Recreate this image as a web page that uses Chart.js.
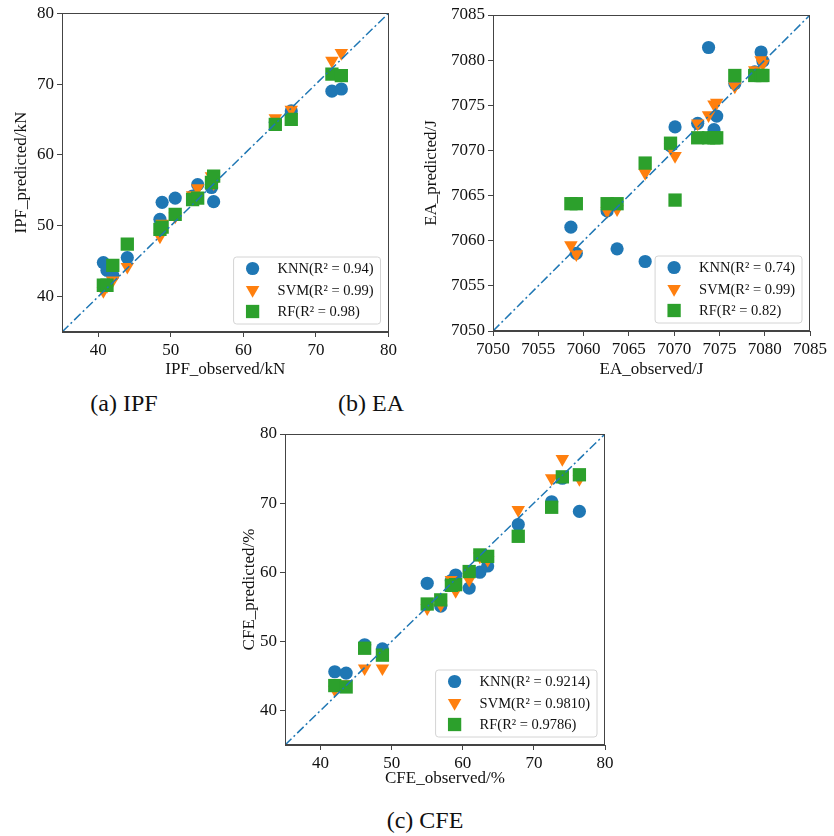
<!DOCTYPE html>
<html>
<head>
<meta charset="utf-8">
<script src="https://cdn.jsdelivr.net/npm/chart.js@4.4.0/dist/chart.umd.min.js"></script>
<style>
  body { margin: 0; background: #fff; width: 834px; height: 836px; position: relative; overflow: hidden;
         font-family: "Liberation Serif", "Times New Roman", serif; }
  canvas { position: absolute; }
  .cap { position: absolute; font-size: 24px; color: #111; white-space: nowrap; transform: translate(-50%, -50%); }
</style>
</head>
<body>
<canvas id="ipf" width="400" height="380" style="left:0;top:0"></canvas>
<canvas id="ea" width="420" height="380" style="left:410px;top:0"></canvas>
<canvas id="cfe" width="400" height="375" style="left:220px;top:420px"></canvas>
<div class="cap" style="left:124px;top:403px">(a) IPF</div>
<div class="cap" style="left:371px;top:403px">(b) EA</div>
<div class="cap" style="left:425px;top:820px">(c) CFE</div>

<script>
const FONT = '"Liberation Serif", "Times New Roman", serif';
const models = ['KNN', 'SVM', 'RF'];
const colors = ['#1f77b4', '#ff7f0e', '#2ca02c'];

// IPF (kN)
const ipfObserved = [40.7, 41.2, 42.0, 44.0, 48.5, 48.8, 50.6, 53.0, 53.7, 55.6, 55.9, 64.4, 66.6, 72.2, 73.5];
const ipfKnn = [44.8, 43.7, 43.0, 45.5, 50.9, 53.3, 53.9, 54.2, 55.8, 55.4, 53.4, 64.6, 66.2, 69.0, 69.3];
const ipfSvm = [40.8, 41.5, 42.3, 44.2, 48.5, 50.3, 51.3, 54.3, 55.3, 57.0, 56.0, 65.2, 66.4, 73.3, 74.4];
const ipfRf  = [41.6, 41.6, 44.4, 47.4, 49.5, 49.8, 51.6, 53.7, 53.9, 56.1, 57.0, 64.3, 65.0, 71.4, 71.2];
const ipfR2 = ['0.94', '0.99', '0.98'];
const ipfTicks = [40, 50, 60, 70, 80];

// EA (J)
const eaObserved = [7058.6, 7059.2, 7062.6, 7063.7, 7066.8, 7069.6, 7070.1, 7072.6, 7073.8, 7074.4, 7074.7, 7076.7, 7078.9, 7079.6, 7079.8];
const eaKnn = [7061.5, 7058.6, 7063.3, 7059.1, 7057.7, 7070.5, 7072.6, 7073.0, 7081.4, 7072.3, 7073.8, 7077.4, 7078.7, 7080.9, 7079.9];
const eaSvm = [7059.5, 7058.5, 7063.3, 7063.5, 7067.5, 7070.4, 7069.4, 7073.0, 7073.9, 7075.1, 7075.3, 7077.1, 7078.9, 7080.0, 7079.6];
const eaRf  = [7064.1, 7064.1, 7064.1, 7064.1, 7068.6, 7070.8, 7064.5, 7071.4, 7071.4, 7071.4, 7071.4, 7078.3, 7078.3, 7078.3, 7078.3];
const eaR2 = ['0.74', '0.99', '0.82'];
const eaTicks = [7050, 7055, 7060, 7065, 7070, 7075, 7080, 7085];

// CFE (%)
const cfeObserved = [42.0, 43.6, 46.2, 48.7, 55.0, 56.9, 58.4, 59.0, 60.9, 62.4, 63.5, 67.8, 72.5, 74.0, 76.4];
const cfeKnn = [45.6, 45.4, 49.5, 48.9, 58.4, 55.1, 58.8, 59.6, 57.7, 60.0, 60.9, 66.9, 70.2, 73.6, 68.8];
const cfeSvm = [43.0, 43.8, 46.1, 46.1, 54.8, 55.3, 58.9, 57.3, 58.9, 62.3, 61.8, 69.0, 73.6, 76.4, 73.5];
const cfeRf  = [43.6, 43.4, 49.0, 48.0, 55.4, 56.0, 58.1, 58.2, 60.1, 62.5, 62.3, 65.2, 69.4, 73.8, 74.1];
const cfeR2 = ['0.9214', '0.9810', '0.9786'];
const cfeTicks = [40, 50, 60, 70, 80];

const markerStyles = [
  { pointStyle: 'circle', pointRadius: 6.6, rotation: 0 },
  { pointStyle: 'triangle', pointRadius: 7.8, rotation: 180 },
  { pointStyle: 'rect', pointRadius: 9.4, rotation: 0 },
];

function drawMarker(ctx, style, r, color, x, y) {
  ctx.beginPath();
  if (style === 'circle') {
    ctx.arc(x, y, r, 0, Math.PI * 2);
  } else if (style === 'rect') {
    const s = Math.SQRT1_2 * r;
    ctx.rect(x - s, y - s, 2 * s, 2 * s);
  } else {
    // downward triangle
    let a = Math.PI;
    ctx.moveTo(x + Math.sin(a) * r, y - Math.cos(a) * r);
    a += 2 * Math.PI / 3;
    ctx.lineTo(x + Math.sin(a) * r, y - Math.cos(a) * r);
    a += 2 * Math.PI / 3;
    ctx.lineTo(x + Math.sin(a) * r, y - Math.cos(a) * r);
    ctx.closePath();
  }
  ctx.fillStyle = color;
  ctx.fill();
}

// axes box + legend inside the lower right corner
const framePlugin = {
  id: 'framePlugin',
  afterDraw(chart) {
    const { ctx, chartArea: a } = chart;
    ctx.save();
    ctx.strokeStyle = '#444';
    ctx.lineWidth = 1;
    ctx.strokeRect(Math.round(a.left) + 0.5, Math.round(a.top) + 0.5,
                   Math.round(a.right - a.left) - 1, Math.round(a.bottom - a.top) - 1);

    const items = chart.data.datasets.filter(d => d.legendText);
    ctx.font = '14.5px ' + FONT;
    const textW = Math.max(...items.map(d => ctx.measureText(d.legendText).width));
    const w = 44 + textW + 7, h = 67;
    const x = a.right - 8 - w, y = a.bottom - 8 - h;
    ctx.beginPath();
    ctx.roundRect(x, y, w, h, 3);
    ctx.fillStyle = 'rgba(255,255,255,0.85)';
    ctx.fill();
    ctx.strokeStyle = '#d4d4d4';
    ctx.stroke();
    items.forEach((d, i) => {
      const cy = y + 11.5 + i * 21.5;
      drawMarker(ctx, d.pointStyle, d.pointRadius, d.backgroundColor, x + 19, cy);
      ctx.fillStyle = '#111';
      ctx.textBaseline = 'middle';
      ctx.fillText(d.legendText, x + 44, cy + 1);
    });
    ctx.restore();
  }
};

function axis(min, max, ticks, title, size, titlePad) {
  return {
    type: 'linear', min, max,
    afterBuildTicks: s => { s.ticks = ticks.map(v => ({ value: v })); },
    afterFit: s => { if (s.isHorizontal()) s.height = size; else s.width = size; },
    grid: { drawOnChartArea: false, tickLength: 5, color: '#444', lineWidth: 1 },
    border: { color: '#444', width: 1 },
    ticks: { color: '#111', font: { family: FONT, size: 17 }, padding: 3, maxRotation: 0,
             autoSkip: false, callback: v => String(v) },
    title: { display: true, text: title, color: '#111', font: { family: FONT, size: 17 },
             padding: { top: titlePad, bottom: titlePad } }
  };
}

function scatterPanel(id, opt) {
  const datasets = models.map((m, i) => ({
    label: m,
    legendText: `${m}(R² = ${opt.r2[i]})`,
    data: opt.observed.map((x, k) => ({ x, y: opt.preds[i][k] })),
    backgroundColor: colors[i],
    borderWidth: 0,
    pointStyle: markerStyles[i].pointStyle,
    pointRadius: markerStyles[i].pointRadius,
    rotation: markerStyles[i].rotation,
    order: 3 - i
  }));
  // y = x reference line
  datasets.push({
    label: 'ideal',
    data: [{ x: opt.min, y: opt.min }, { x: opt.max, y: opt.max }],
    showLine: true, pointRadius: 0, borderColor: '#1f77b4', borderWidth: 1.5,
    borderDash: [9, 3, 2, 3], order: 0
  });

  new Chart(document.getElementById(id), {
    type: 'scatter',
    data: { datasets },
    options: {
      responsive: false, animation: false, devicePixelRatio: 1,
      layout: { padding: { top: opt.padTop, right: opt.padRight, left: 0, bottom: 0 } },
      scales: {
        x: axis(opt.min, opt.max, opt.ticks, opt.xTitle, opt.xHeight, opt.xTitlePad),
        y: axis(opt.min, opt.max, opt.ticks, opt.yTitle, opt.yWidth, opt.yTitlePad)
      },
      plugins: { legend: { display: false }, tooltip: { enabled: false } }
    },
    plugins: [framePlugin]
  });
}

scatterPanel('ipf', {
  observed: ipfObserved, preds: [ipfKnn, ipfSvm, ipfRf], r2: ipfR2, ticks: ipfTicks,
  min: 35, max: 80, xTitle: 'IPF_observed/kN', yTitle: 'IPF_predicted/kN',
  padTop: 12, padRight: 9, yWidth: 62, xHeight: 48, xTitlePad: 0, yTitlePad: 11
});

scatterPanel('ea', {
  observed: eaObserved, preds: [eaKnn, eaSvm, eaRf], r2: eaR2, ticks: eaTicks,
  min: 7050, max: 7085, xTitle: 'EA_observed/J', yTitle: 'EA_predicted/J',
  padTop: 15, padRight: 13, yWidth: 83, xHeight: 49, xTitlePad: 0, yTitlePad: 11
});

scatterPanel('cfe', {
  observed: cfeObserved, preds: [cfeKnn, cfeSvm, cfeRf], r2: cfeR2, ticks: cfeTicks,
  min: 35, max: 80, xTitle: 'CFE_observed/%', yTitle: 'CFE_predicted/%',
  padTop: 14, padRight: 15, yWidth: 65, xHeight: 50, xTitlePad: 6, yTitlePad: 19
});
</script>
</body>
</html>
